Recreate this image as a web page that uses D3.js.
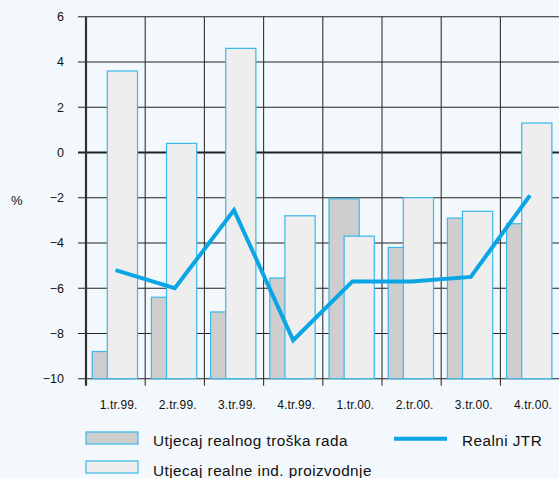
<!DOCTYPE html>
<html>
<head>
<meta charset="utf-8">
<script src="https://cdn.jsdelivr.net/npm/d3@7"></script>
<style>
  html, body { margin: 0; padding: 0; background: #f3f8fc; }
  svg { display: block; font-family: "Liberation Sans", Arial, sans-serif; }
</style>
</head>
<body>
<svg id="chart" width="559" height="478"></svg>
<script>
// quarters
const categories = ['1.tr.99.', '2.tr.99.', '3.tr.99.', '4.tr.99.', '1.tr.00.', '2.tr.00.', '3.tr.00.', '4.tr.00.'];
// Utjecaj realnog troška rada
const laborCost = [-8.8, -6.4, -7.05, -5.55, -2.05, -4.2, -2.9, -3.15];
// Utjecaj realne ind. proizvodnje
const indProduction = [3.6, 0.4, 4.6, -2.8, -3.7, -2.0, -2.6, 1.3];
// Realni JTR
const realULC = [-5.2, -6.0, -2.55, -8.3, -5.7, -5.7, -5.5, -1.9];
const yTicks = [-10, -8, -6, -4, -2, 0, 2, 4, 6];

const svg = d3.select('#chart');
const plotLeft = 86, plotRight = 559.6, plotTop = 16.7, plotBottom = 378.7;
const lineColor = '#0aa5e4';

const x = d3.scaleBand().domain(categories).range([plotLeft, plotRight]).padding(0);
const y = d3.scaleLinear().domain([-10, 6]).range([plotBottom, plotTop]);
const bw = x.bandwidth();

// horizontal grid
svg.append('g').selectAll('line')
  .data(yTicks)
  .enter().append('line')
  .attr('x1', plotLeft - 8).attr('x2', 560)
  .attr('y1', d => y(d)).attr('y2', d => y(d))
  .attr('stroke', '#222')
  .attr('stroke-width', d => d === 0 ? 2 : 1.1);

// vertical grid + ticks below axis
const bounds = categories.map(c => x(c)).concat([plotRight]);
svg.append('g').selectAll('line')
  .data(bounds)
  .enter().append('line')
  .attr('x1', d => d).attr('x2', d => d)
  .attr('y1', plotTop).attr('y2', plotBottom + 7)
  .attr('stroke', '#333')
  .attr('stroke-width', (d, i) => i === 0 ? 2.2 : 1.1);

// y labels
const yAxis = d3.axisLeft(y).tickValues(yTicks).tickSize(0).tickPadding(0);
const yg = svg.append('g')
  .attr('transform', `translate(${plotLeft - 22},0)`)
  .call(yAxis);
yg.select('.domain').remove();
yg.selectAll('text').attr('font-size', 12.5).attr('fill', '#111')
  .attr('font-family', '"Liberation Sans", Arial, sans-serif');

svg.append('text')
  .attr('x', 11).attr('y', 205)
  .attr('font-size', 13).attr('fill', '#111')
  .text('%');

// bars
svg.append('g').selectAll('rect')
  .data(laborCost)
  .enter().append('rect')
  .attr('x', (d, i) => x(categories[i]) + bw * 0.105)
  .attr('width', bw * 0.51)
  .attr('y', d => y(d))
  .attr('height', d => y(-10) - y(d))
  .attr('fill', '#cecece')
  .attr('stroke', '#3bb7ea').attr('stroke-width', 1.2);

svg.append('g').selectAll('rect')
  .data(indProduction)
  .enter().append('rect')
  .attr('x', (d, i) => x(categories[i]) + bw * 0.36)
  .attr('width', bw * 0.51)
  .attr('y', d => y(d))
  .attr('height', d => y(-10) - y(d))
  .attr('fill', '#eeeeee')
  .attr('stroke', '#3bb7ea').attr('stroke-width', 1.2);

// line
const line = d3.line()
  .x((d, i) => x(categories[i]) + bw / 2)
  .y(d => y(d));
svg.append('path')
  .datum(realULC)
  .attr('d', line)
  .attr('fill', 'none')
  .attr('stroke', lineColor)
  .attr('stroke-width', 4);

// x labels
svg.append('g').selectAll('text')
  .data(categories)
  .enter().append('text')
  .attr('x', d => x(d) + bw / 2 + 3)
  .attr('y', 409)
  .attr('text-anchor', 'middle')
  .attr('font-size', 12)
  .attr('letter-spacing', 0.15)
  .attr('fill', '#111')
  .text(d => d);

// legend
const legend = svg.append('g')
  .attr('font-size', 15.3)
  .attr('letter-spacing', 0.45)
  .attr('fill', '#111');
legend.append('rect').attr('x', 86).attr('y', 432).attr('width', 52).attr('height', 12)
  .attr('fill', '#cecece').attr('stroke', '#3bb7ea').attr('stroke-width', 1.2);
legend.append('text').attr('x', 153).attr('y', 446)
  .text('Utjecaj realnog troška rada');
legend.append('rect').attr('x', 86).attr('y', 461).attr('width', 52).attr('height', 12)
  .attr('fill', '#eeeeee').attr('stroke', '#3bb7ea').attr('stroke-width', 1.2);
legend.append('text').attr('x', 153).attr('y', 476)
  .text('Utjecaj realne ind. proizvodnje');
legend.append('line').attr('x1', 394).attr('x2', 447).attr('y1', 438.7).attr('y2', 438.7)
  .attr('stroke', lineColor).attr('stroke-width', 4);
legend.append('text').attr('x', 462).attr('y', 446)
  .text('Realni JTR');
</script>
</body>
</html>
